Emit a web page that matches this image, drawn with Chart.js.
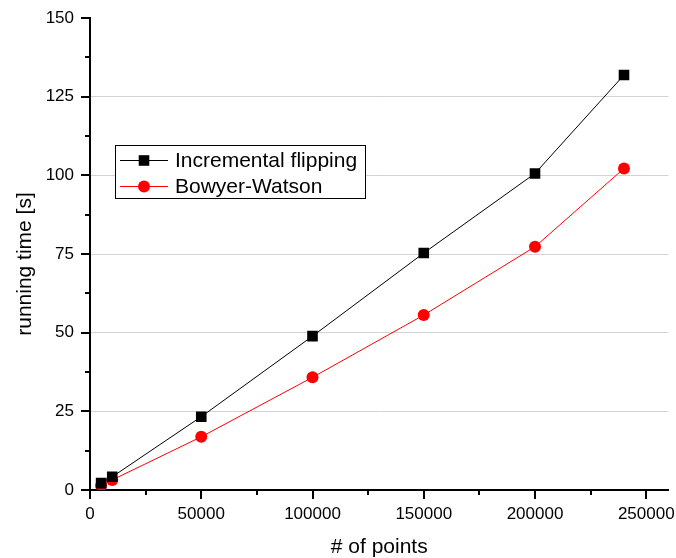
<!DOCTYPE html>
<html>
<head>
<meta charset="utf-8">
<script src="https://cdn.jsdelivr.net/npm/chart.js@4/dist/chart.umd.min.js"></script>
<style>
    body { margin: 0; background: #fff; }
    #chart { display: block; }
</style>
</head>
<body>
<canvas id="chart" width="676" height="558"></canvas>
<script>
// values
const pointCounts = [5000, 10000, 50000, 100000, 150000, 200000, 240000];
const incrementalFlipping = [2.2, 4.2, 23.3, 48.9, 75.3, 100.6, 131.9];
const bowyerWatson = [1.4, 3.2, 16.9, 35.8, 55.6, 77.3, 102.2];

const xTicks = [0, 50000, 100000, 150000, 200000, 250000];
const xMinorTicks = [25000, 75000, 125000, 175000, 225000];
const yTicks = [0, 25, 50, 75, 100, 125, 150];
const yMinorTicks = [12.5, 37.5, 62.5, 87.5, 112.5, 137.5];

const FONT = '"Liberation Sans", Arial, sans-serif';

function toPoints(ys) {
    return pointCounts.map((x, i) => ({ x: x, y: ys[i] }));
}

// tick marks, axis titles and the framed legend
const decorations = {
    id: 'decorations',
    afterDraw(chart) {
        const ctx = chart.ctx;
        const xs = chart.scales.x;
        const ys = chart.scales.y;
        const area = chart.chartArea;

        ctx.save();
        ctx.strokeStyle = '#000';
        ctx.lineWidth = 2;
        ctx.beginPath();
        xTicks.forEach(v => {
            const px = Math.round(xs.getPixelForValue(v));
            ctx.moveTo(px, area.bottom); ctx.lineTo(px, area.bottom + 9);
        });
        xMinorTicks.forEach(v => {
            const px = Math.round(xs.getPixelForValue(v));
            ctx.moveTo(px, area.bottom); ctx.lineTo(px, area.bottom + 5);
        });
        yTicks.forEach(v => {
            const py = Math.round(ys.getPixelForValue(v));
            ctx.moveTo(area.left, py); ctx.lineTo(area.left - 9, py);
        });
        yMinorTicks.forEach(v => {
            const py = Math.round(ys.getPixelForValue(v));
            ctx.moveTo(area.left, py); ctx.lineTo(area.left - 5, py);
        });
        ctx.stroke();

        // axis titles
        ctx.fillStyle = '#000';
        ctx.font = '21px ' + FONT;
        ctx.textAlign = 'center';
        ctx.textBaseline = 'alphabetic';
        ctx.fillText('# of points', (area.left + area.right) / 2, 553);
        ctx.translate(31, 264);
        ctx.rotate(-Math.PI / 2);
        ctx.fillText('running time [s]', 0, 0);
        ctx.restore();

        // legend
        ctx.save();
        ctx.fillStyle = '#fff';
        ctx.fillRect(115, 145, 250, 53);
        ctx.strokeStyle = '#000';
        ctx.lineWidth = 1;
        ctx.strokeRect(115.5, 145.5, 250, 53);
        ctx.font = '21px ' + FONT;
        ctx.textBaseline = 'middle';
        chart.data.datasets.forEach((ds, i) => {
            const cy = 160 + i * 26;
            ctx.strokeStyle = ds.borderColor;
            ctx.lineWidth = ds.borderWidth;
            ctx.beginPath();
            ctx.moveTo(120, cy + 0.5);
            ctx.lineTo(168, cy + 0.5);
            ctx.stroke();
            ctx.fillStyle = ds.pointBackgroundColor;
            Chart.helpers.drawPoint(ctx, {
                pointStyle: ds.pointStyle,
                radius: ds.pointRadius,
                rotation: 0,
                borderWidth: 0
            }, 144, cy + 0.5);
            ctx.fillStyle = '#000';
            ctx.fillText(ds.label, 175, cy + 1);
        });
        ctx.restore();
    }
};

const chart = new Chart(document.getElementById('chart'), {
    type: 'scatter',
    data: {
        datasets: [{
            label: 'Incremental flipping',
            data: toPoints(incrementalFlipping),
            showLine: true,
            borderColor: '#000',
            borderWidth: 1,
            pointStyle: 'rect',
            pointRadius: 7.5,
            pointBackgroundColor: '#000',
            pointBorderWidth: 0
        }, {
            label: 'Bowyer-Watson',
            data: toPoints(bowyerWatson),
            showLine: true,
            borderColor: '#ff0000',
            borderWidth: 1,
            pointStyle: 'circle',
            pointRadius: 6,
            pointBackgroundColor: '#ff0000',
            pointBorderWidth: 0
        }]
    },
    options: {
        responsive: false,
        animation: false,
        layout: { padding: { top: 18, right: 7, left: 0, bottom: 0 } },
        plugins: {
            legend: { display: false },
            tooltip: { enabled: false }
        },
        scales: {
            x: {
                type: 'linear',
                min: 0,
                max: 260000,
                afterBuildTicks: scale => { scale.ticks = xTicks.map(v => ({ value: v })); },
                afterFit: scale => {
                    scale.height = 68;
                    scale.paddingLeft = 0;
                    scale.paddingRight = 0;
                },
                ticks: {
                    color: '#000',
                    font: { family: FONT, size: 17 },
                    padding: 14,
                    maxRotation: 0,
                    callback: v => String(v)
                },
                grid: { display: false, drawTicks: false },
                border: { display: true, color: '#000', width: 2 }
            },
            y: {
                min: 0,
                max: 150,
                afterBuildTicks: scale => { scale.ticks = yTicks.map(v => ({ value: v })); },
                afterFit: scale => {
                    scale.width = 90;
                    scale.paddingTop = 0;
                    scale.paddingBottom = 0;
                },
                ticks: {
                    color: '#000',
                    font: { family: FONT, size: 17 },
                    padding: 16,
                    callback: v => String(v)
                },
                grid: {
                    drawTicks: false,
                    lineWidth: 1,
                    color: c => (c.tick && (c.tick.value === 0 || c.tick.value === 150)) ? 'rgba(0,0,0,0)' : '#d3d3d3'
                },
                border: { display: true, color: '#000', width: 2 }
            }
        }
    },
    plugins: [decorations]
});
</script>
</body>
</html>
